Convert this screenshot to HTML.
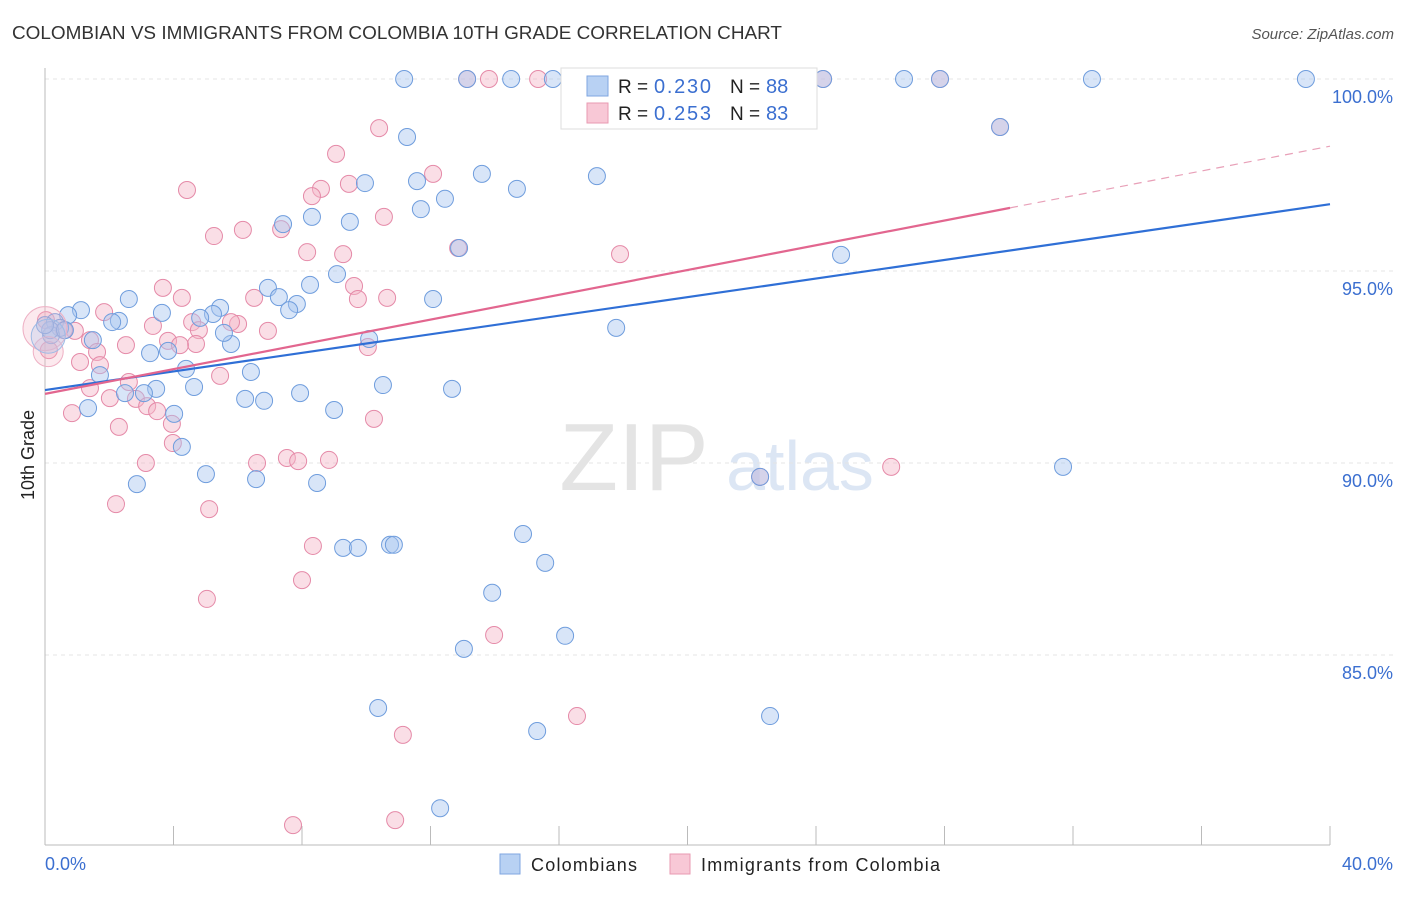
<!DOCTYPE html>
<html><head><meta charset="utf-8"><style>
body{margin:0;background:#fff;font-family:"Liberation Sans",sans-serif;}
svg text{font-family:"Liberation Sans",sans-serif;}
</style></head><body>
<svg id="chart" width="1406" height="892" xmlns="http://www.w3.org/2000/svg">
<text x="12" y="39" font-size="18" fill="#333" textLength="770" lengthAdjust="spacingAndGlyphs">COLOMBIAN VS IMMIGRANTS FROM COLOMBIA 10TH GRADE CORRELATION CHART</text>
<text x="1394" y="39" font-size="15" fill="#555" font-style="italic" text-anchor="end">Source: ZipAtlas.com</text>
<text x="634" y="490" font-size="96" fill="#e4e4e4" font-family="Liberation Serif" text-anchor="middle">ZIP</text>
<text x="800" y="490" font-size="70" fill="#dce6f4" text-anchor="middle">atlas</text>
<g id="grid"></g><g id="axes"></g><g id="marks"></g><g id="lines"></g>
<text x="34" y="455" font-size="18" fill="#222" transform="rotate(-90 34 455)" text-anchor="middle">10th Grade</text>
<text x="45" y="870" font-size="18" fill="#3b6fd0">0.0%</text>
<text x="1393" y="870" font-size="18" fill="#3b6fd0" text-anchor="end">40.0%</text>
<g>
<rect x="561" y="68" width="256" height="61" fill="#fff" stroke="#ddd"/>
<rect x="587" y="76" width="21" height="20" fill="#b8d1f3" stroke="#7fa6e0"/>
<rect x="587" y="103" width="21" height="20" fill="#f8c8d6" stroke="#e89ab2"/>
<text x="618" y="93" font-size="19" fill="#222">R = </text><text x="654" y="93" font-size="20" fill="#3b6fd0" textLength="57">0.230</text>
<text x="730" y="93" font-size="19" fill="#222">N = </text><text x="766" y="93" font-size="20" fill="#3b6fd0">88</text>
<text x="618" y="120" font-size="19" fill="#222">R = </text><text x="654" y="120" font-size="20" fill="#3b6fd0" textLength="57">0.253</text>
<text x="730" y="120" font-size="19" fill="#222">N = </text><text x="766" y="120" font-size="20" fill="#3b6fd0">83</text>
</g>
<g>
<rect x="500" y="854" width="20" height="20" fill="#b8d1f3" stroke="#7fa6e0"/>
<text x="531" y="871" font-size="18" fill="#222" textLength="106">Colombians</text>
<rect x="670" y="854" width="20" height="20" fill="#f8c8d6" stroke="#e89ab2"/>
<text x="701" y="871" font-size="18" fill="#222" textLength="239">Immigrants from Colombia</text>
</g>
</svg>
<script>
const yTicks=[85,90,95,100];
const yTickLabels=["85.0%","90.0%","95.0%","100.0%"];
const blueX=[11.18,13.14,14.51,15.81,19.52,24.22,26.74,27.86,32.59,39.25,11.27,29.73,11.58,13.60,14.69,17.18,9.96,11.70,12.45,7.41,8.31,9.49,12.89,24.78,9.09,6.94,8.25,7.28,7.84,7.60,12.08,2.61,1.12,3.64,5.45,5.23,4.83,2.30,2.09,0.72,0.31,0.47,0.19,1.49,5.79,5.57,3.27,3.83,10.09,17.78,4.39,1.71,6.41,4.64,3.46,3.08,2.49,10.52,12.67,6.23,6.82,7.94,9.00,4.02,1.34,4.26,5.01,6.57,8.47,2.86,31.69,22.26,14.88,15.57,9.28,9.74,10.74,10.86,13.92,16.19,13.04,10.37,22.57,15.32,12.30,0.16,0,0.62];
const blueY=[100,100,100,100,100,100,100,100,100,100,98.49,98.75,97.34,97.53,97.14,97.47,97.29,96.61,96.88,96.22,96.41,96.28,95.60,95.42,94.92,94.56,94.64,94.32,94.14,93.98,94.27,94.27,93.98,93.91,94.04,93.88,93.78,93.70,93.67,93.85,93.67,93.52,93.33,93.20,93.10,93.39,92.86,92.92,93.23,93.52,92.45,92.29,92.37,91.98,91.93,91.82,91.82,92.03,91.93,91.67,91.62,91.82,91.38,91.28,91.43,90.42,89.71,89.58,89.48,89.45,89.90,89.64,88.15,87.40,87.79,87.79,87.87,87.87,86.62,85.50,85.16,83.62,83.41,83.02,81.01,93.46,93.59,93.46];
const pinkX=[13.14,13.82,15.35,20.83,24.22,27.86,29.73,10.40,9.06,12.08,9.46,8.59,8.31,4.42,10.55,6.16,5.26,7.35,8.16,9.28,12.86,17.90,3.67,9.62,4.26,6.51,9.74,10.65,1.84,4.58,6.01,5.79,3.36,4.79,6.94,0.93,0.59,0.03,1.40,2.52,3.83,4.70,10.05,4.20,0.12,1.09,1.62,1.71,5.45,2.61,1.40,2.02,2.83,3.18,3.49,3.95,0.84,2.30,10.24,3.98,3.14,6.60,7.53,7.88,8.84,26.34,22.26,2.21,5.11,8.34,8.00,5.04,13.98,16.56,11.14,7.72,10.90];
const pinkY=[100,100,100,100,100,100,98.75,98.72,98.05,97.53,97.27,97.14,96.95,97.11,96.41,96.07,95.91,96.09,95.49,95.44,95.60,95.44,94.56,94.61,94.30,94.30,94.27,94.30,93.93,93.67,93.62,93.67,93.57,93.46,93.44,93.44,93.46,93.72,93.20,93.07,93.18,93.10,93.02,93.07,92.94,92.63,92.89,92.55,92.27,92.11,91.95,91.69,91.67,91.48,91.35,91.02,91.30,90.94,91.15,90.52,90.00,90.00,90.13,90.05,90.08,89.90,89.64,88.93,88.80,87.84,86.95,86.46,85.52,83.41,82.92,80.57,80.70];
const blueTrend=[91.9,96.74];
const pinkTrend=[91.8,98.25];
const pinkSolidEnd=30.04;
const NS="http://www.w3.org/2000/svg";
const X=v=>45+v/40*1285;
const Y=v=>79+(100-v)*38.4;
function mk(tag,attrs,parent){const e=document.createElementNS(NS,tag);for(const k in attrs)e.setAttribute(k,attrs[k]);document.getElementById(parent).appendChild(e);return e;}
yTicks.forEach((t,i)=>{
 const l=mk('line',{x1:45,x2:1393,y1:Y(t),y2:Y(t),stroke:'#e4e4e4','stroke-dasharray':'4,4'},'grid');
 
 
 const tx=mk('text',{x:1393,y:Y(t)+24,'font-size':18,fill:'#3b6fd0','text-anchor':'end'},'grid');
 tx.textContent=yTickLabels[i];
 
 
});
const ax=mk('line',{x1:45,x2:45,y1:68,y2:845,stroke:'#bbb'},'axes');


const bx=mk('line',{x1:45,x2:1330,y1:845,y2:845,stroke:'#bbb'},'axes');


for(let i=1;i<=10;i++){const t=mk('line',{x1:X(i*4),x2:X(i*4),y1:826,y2:845,stroke:'#bbb'},'axes');
 
 }
function dots(xs,ys,fill,stroke,name){xs.forEach((x,i)=>{
 const c=mk('circle',{cx:X(x),cy:Y(ys[i]),r:8.5,fill:fill,'fill-opacity':0.45,stroke:stroke,'stroke-width':1},'marks');
 
 });}
dots(pinkX,pinkY,'#f5b5c8','#e58aa8','point-immigrants');
dots(blueX,blueY,'#a9c6ef','#6f9ddd','point-colombians');
[[0,93.5,22,'#f5b5c8','#eeb0c4'],[0.1,92.9,15,'#f5b5c8','#eeb0c4'],[0.1,93.3,17,'#a9c6ef','#9dbbe6']].forEach(b=>{
 const c=mk('circle',{cx:X(b[0]),cy:Y(b[1]),r:b[2],fill:b[3],'fill-opacity':0.3,stroke:b[4]},'marks');
 
 });
const bl=mk('line',{x1:X(0),y1:Y(blueTrend[0]),x2:X(40),y2:Y(blueTrend[1]),stroke:'#2f6fd6','stroke-width':2.2},'lines');


const pm=pinkTrend[0]+(pinkTrend[1]-pinkTrend[0])*pinkSolidEnd/40;
const pl=mk('line',{x1:X(0),y1:Y(pinkTrend[0]),x2:X(pinkSolidEnd),y2:Y(pm),stroke:'#e2668f','stroke-width':2.2},'lines');


const pd=mk('line',{x1:X(pinkSolidEnd),y1:Y(pm),x2:X(40),y2:Y(pinkTrend[1]),stroke:'#e8a0b8','stroke-width':1.2,'stroke-dasharray':'8,6'},'lines');


</script>
</body></html>
